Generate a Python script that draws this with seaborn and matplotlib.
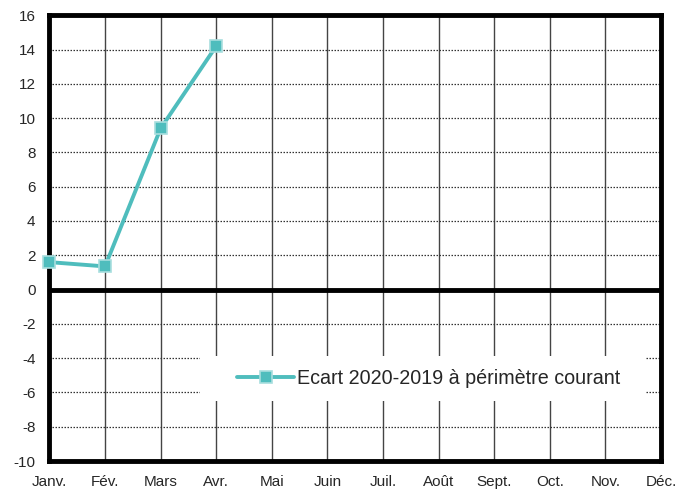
import numpy as np
import pandas as pd
import seaborn as sns
import matplotlib.pyplot as plt
from matplotlib.patches import Rectangle

months = ['Janv.', 'Fév.', 'Mars', 'Avr.', 'Mai', 'Juin', 'Juil.', 'Août', 'Sept.', 'Oct.', 'Nov.', 'Déc.']
ecart = [1.6, 1.35, 9.4, 14.2]
y_ticks = list(range(-10, 17, 2))
series_name = 'Ecart 2020-2019 à périmètre courant'

sns.set_style('white')
plt.rcParams['font.family'] = ['Liberation Sans', 'DejaVu Sans']

df = pd.DataFrame({'pos': np.arange(len(ecart)), 'val': ecart, 'serie': series_name})

fig, ax = plt.subplots(figsize=(6.87, 4.92), dpi=100)
fig.subplots_adjust(left=0.072, right=0.962, top=0.969, bottom=0.063)

teal = '#4FBDBD'
sns.lineplot(data=df, x='pos', y='val', hue='serie', palette=[teal], ax=ax,
             marker='s', markersize=9, markeredgecolor='#A8DEDE', markeredgewidth=1.2,
             linewidth=2.8, zorder=7, clip_on=False)

ax.set_xlim(0, len(months) - 1)
ax.set_ylim(-10, 16)
ax.set_xticks(np.arange(len(months)))
ax.set_xticklabels(months, fontsize=11)
ax.set_yticks(y_ticks)
ax.set_yticklabels([str(v) for v in y_ticks], fontsize=11)
ax.tick_params(axis='x', length=0, pad=10)
ax.tick_params(axis='y', length=0, pad=10)
ax.set_xlabel('')
ax.set_ylabel('')

# grid: solid verticals, dotted horizontals
for i in range(1, len(months) - 1):
    ax.axvline(i, color='#444444', linewidth=1.0, zorder=1)
for v in y_ticks:
    if v not in (-10, 0, 16):
        ax.axhline(v, color='#333333', linewidth=0.9, linestyle=(0, (1.2, 1.2)), zorder=1)
ax.axhline(0, color='black', linewidth=3.5, zorder=2)

for s in ax.spines.values():
    s.set_visible(True)
    s.set_linewidth(3.5)
    s.set_color('black')
    s.set_zorder(6)

# white box behind the legend, hiding the grid
ax.add_patch(Rectangle((0.247, 0.1345), 0.727, 0.101, transform=ax.transAxes,
                       facecolor='white', edgecolor='none', zorder=3))

leg = ax.legend(loc='center left', bbox_to_anchor=(0.307, 0.186), frameon=False, fontsize=14.2,
                handlelength=2.9, handletextpad=0.15, borderpad=0, borderaxespad=0)
leg.set_zorder(10)

fig.savefig('out.png', dpi=100)
